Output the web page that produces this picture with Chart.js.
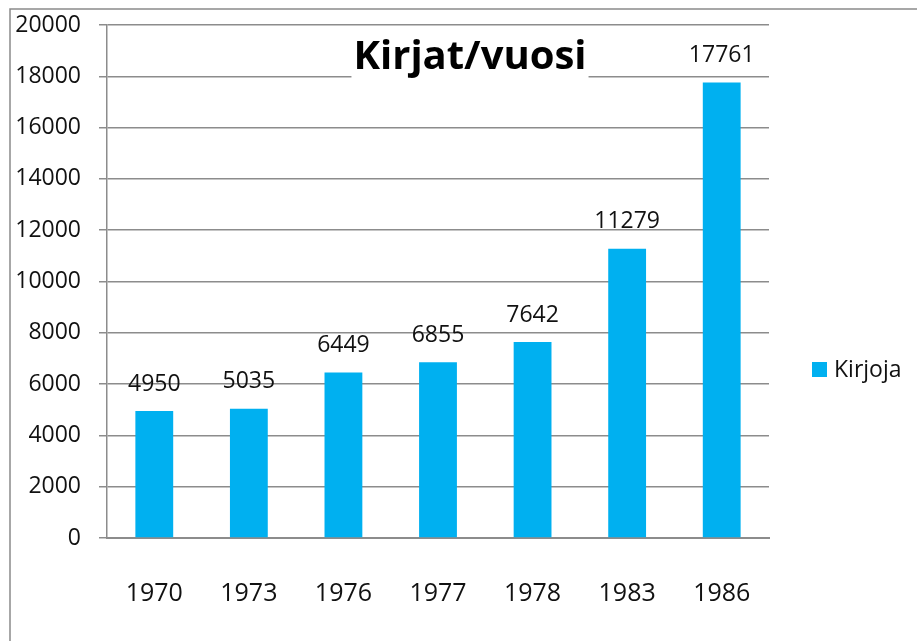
<!DOCTYPE html>
<html>
<head>
<meta charset="utf-8">
<script src="https://cdn.jsdelivr.net/npm/chart.js@4/dist/chart.umd.min.js"></script>
<style>
  html, body { margin: 0; padding: 0; background: #fff; }
  #wrap { position: absolute; left: 0; top: 0; width: 917px; height: 641px; }
</style>
</head>
<body>
<div id="wrap"><canvas id="c" width="917" height="641"></canvas></div>
<script>
const categories = ['1970', '1973', '1976', '1977', '1978', '1983', '1986'];
const kirjoja = [4950, 5035, 6449, 6855, 7642, 11279, 17761];
const seriesName = 'Kirjoja';
const chartTitle = 'Kirjat/vuosi';
const yTicks = [0, 2000, 4000, 6000, 8000, 10000, 12000, 14000, 16000, 18000, 20000];

const FONT = "'Open Sans', 'Liberation Sans', sans-serif";
const GRID = '#8c8c8c';
const BLUE = '#00B0F0';

const extras = {
  id: 'extras',
  beforeDraw(chart) {
    const ctx = chart.ctx;
    ctx.save();
    ctx.fillStyle = '#fff';
    ctx.fillRect(0, 0, chart.width, chart.height);
    ctx.strokeStyle = '#8a8a8a';
    ctx.lineWidth = 1.5;
    ctx.beginPath();
    ctx.moveTo(10, chart.height);
    ctx.lineTo(10, 9);
    ctx.lineTo(chart.width, 9);
    ctx.stroke();
    ctx.restore();
  },
  afterDatasetsDraw(chart) {
    const ctx = chart.ctx;
    const meta = chart.getDatasetMeta(0);
    const ds = chart.data.datasets[0];
    ctx.save();
    // value labels
    ctx.font = '23px ' + FONT;
    ctx.fillStyle = '#111';
    ctx.textAlign = 'center';
    ctx.textBaseline = 'middle';
    meta.data.forEach((bar, i) => {
      ctx.fillText(String(ds.data[i]), bar.x, bar.y - 27);
    });
    // title
    ctx.font = 'bold 40px ' + FONT;
    const tw = ctx.measureText(chartTitle).width;
    const tx = 470, ty = 58;
    ctx.fillStyle = '#fff';
    ctx.fillRect(tx - tw / 2 - 2, ty - 24, tw + 4, 50);
    ctx.fillStyle = '#000';
    ctx.fillText(chartTitle, tx, ty);
    // legend
    const lx = chart.chartArea.right + 43, ly = 370;
    ctx.fillStyle = ds.backgroundColor;
    ctx.fillRect(lx, ly - 8, 15, 15);
    ctx.fillStyle = '#111';
    ctx.font = '23px ' + FONT;
    ctx.textAlign = 'left';
    ctx.fillText(ds.label, lx + 22, ly);
    ctx.restore();
  }
};

new Chart(document.getElementById('c'), {
  type: 'bar',
  data: {
    labels: categories,
    datasets: [{
      label: seriesName,
      data: kirjoja,
      backgroundColor: BLUE,
      borderWidth: 0,
      categoryPercentage: 1.0,
      barPercentage: 0.4
    }]
  },
  options: {
    responsive: false,
    animation: false,
    devicePixelRatio: 1,
    layout: { padding: { left: 0, right: 148, top: 25, bottom: 0 } },
    plugins: {
      legend: { display: false },
      title: { display: false },
      tooltip: { enabled: false }
    },
    scales: {
      x: {
        grid: { display: false, drawTicks: false },
        border: { display: true, color: GRID, width: 2 },
        ticks: { color: '#111', font: { size: 25, family: FONT }, padding: 41 },
        afterFit(scale) { scale.height = 103; scale.paddingLeft = 0; scale.paddingRight = 0; }
      },
      y: {
        min: 0,
        max: 20000,
        afterBuildTicks(scale) { scale.ticks = yTicks.map(v => ({ value: v })); },
        grid: { color: GRID, lineWidth: 1.5, tickLength: 8, drawTicks: true, tickColor: GRID },
        border: { display: true, color: GRID, width: 1.5 },
        ticks: { color: '#111', font: { size: 23, family: FONT }, padding: 18, callback: (v) => String(v) },
        afterFit(scale) { scale.width = 107; scale.paddingTop = 0; scale.paddingBottom = 0; }
      }
    }
  },
  plugins: [extras]
});
</script>
</body>
</html>
